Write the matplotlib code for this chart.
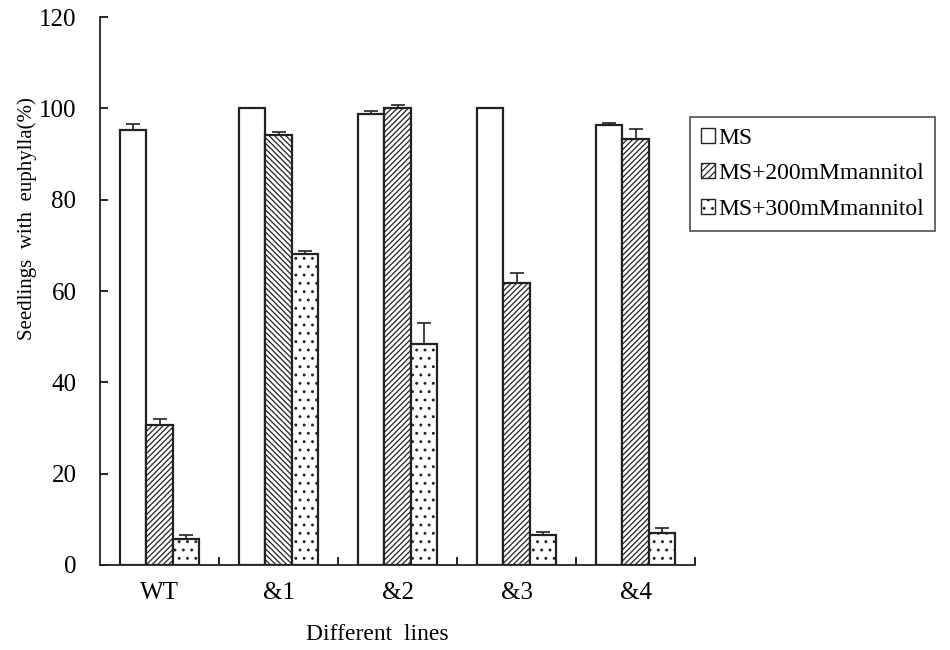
import numpy as np
import matplotlib.pyplot as plt
from matplotlib.patches import Patch

plt.rcParams['font.family'] = ['Liberation Serif', 'DejaVu Serif']
plt.rcParams['hatch.linewidth'] = 0.9

# data
lines = ['WT', '&1', '&2', '&3', '&4']
series = ['MS', 'MS+200mMmannitol', 'MS+300mMmannitol']
ms_val = [95.2, 100.0, 98.8, 100.0, 96.3]
ms_err = [1.4, 0.0, 0.7, 0.0, 0.6]
m200_val = [30.7, 94.2, 100.0, 61.7, 93.3]
m200_err = [1.2, 0.6, 0.8, 2.2, 2.1]
m300_val = [5.6, 68.2, 48.5, 6.5, 7.1]
m300_err = [1.0, 0.6, 4.6, 0.8, 1.0]
m200_hatch = ['//////', '\\\\\\\\\\\\', '//////', '//////', '//////']

fig = plt.figure(figsize=(9.5, 6.5), dpi=100)
ax = fig.add_axes([0.1053, 0.1308, 0.6263, 0.843])

x = np.arange(len(lines))
w = 0.222
ekw = dict(ecolor='#222222', elinewidth=1.2, capsize=5, capthick=1.2)

ax.bar(x - w, ms_val, w, yerr=[np.zeros(5), ms_err], color='white',
       edgecolor='#222222', linewidth=1.6, error_kw=ekw)
for i in range(len(lines)):
    ax.bar(x[i], m200_val[i], w, yerr=[[0], [m200_err[i]]], color='white',
           edgecolor='#222222', linewidth=1.6, hatch=m200_hatch[i], error_kw=ekw)
ax.bar(x + w, m300_val, w, yerr=[np.zeros(5), m300_err], color='white',
       edgecolor='#222222', linewidth=1.6, hatch='..', error_kw=ekw)

ax.set_xlim(-0.5, 4.5)
ax.set_ylim(0, 120)
ax.set_yticks(range(0, 121, 20))
ax.set_xticks(x)
ax.set_xticklabels(lines)
ax.set_xticks(np.arange(0.5, 5.0, 1.0), minor=True)
ax.tick_params(axis='x', which='major', length=0, pad=12, labelsize=18)
ax.tick_params(axis='x', which='minor', direction='in', length=6, width=1.2)
ax.tick_params(axis='y', direction='in', length=6, width=1.2, pad=17, labelsize=18)

for s in ['top', 'right']:
    ax.spines[s].set_visible(False)
for s in ['left', 'bottom']:
    ax.spines[s].set_linewidth(1.3)
    ax.spines[s].set_color('#222222')

ax.set_ylabel('Seedlings  with  euphylla(%)', fontsize=15)
ax.yaxis.set_label_coords(-0.106, 0.633)
ax.set_xlabel('Different  lines', fontsize=17)
ax.xaxis.set_label_coords(0.466, -0.107)

handles = [Patch(facecolor='white', edgecolor='#222222', label=series[0]),
           Patch(facecolor='white', edgecolor='#222222', hatch='/////', label=series[1]),
           Patch(facecolor='white', edgecolor='#222222', hatch='..', label=series[2])]
leg = fig.legend(handles=handles, loc='upper left',
                 bbox_to_anchor=(690 / 950, 1 - 117 / 650), fontsize=17,
                 frameon=True, fancybox=False, handlelength=0.6, handleheight=0.6,
                 handletextpad=0.15, labelspacing=0.62, borderpad=0.45,
                 borderaxespad=0)
leg.get_frame().set_edgecolor('#222222')
leg.get_frame().set_linewidth(1.2)

fig.savefig('out.png', dpi=100)
